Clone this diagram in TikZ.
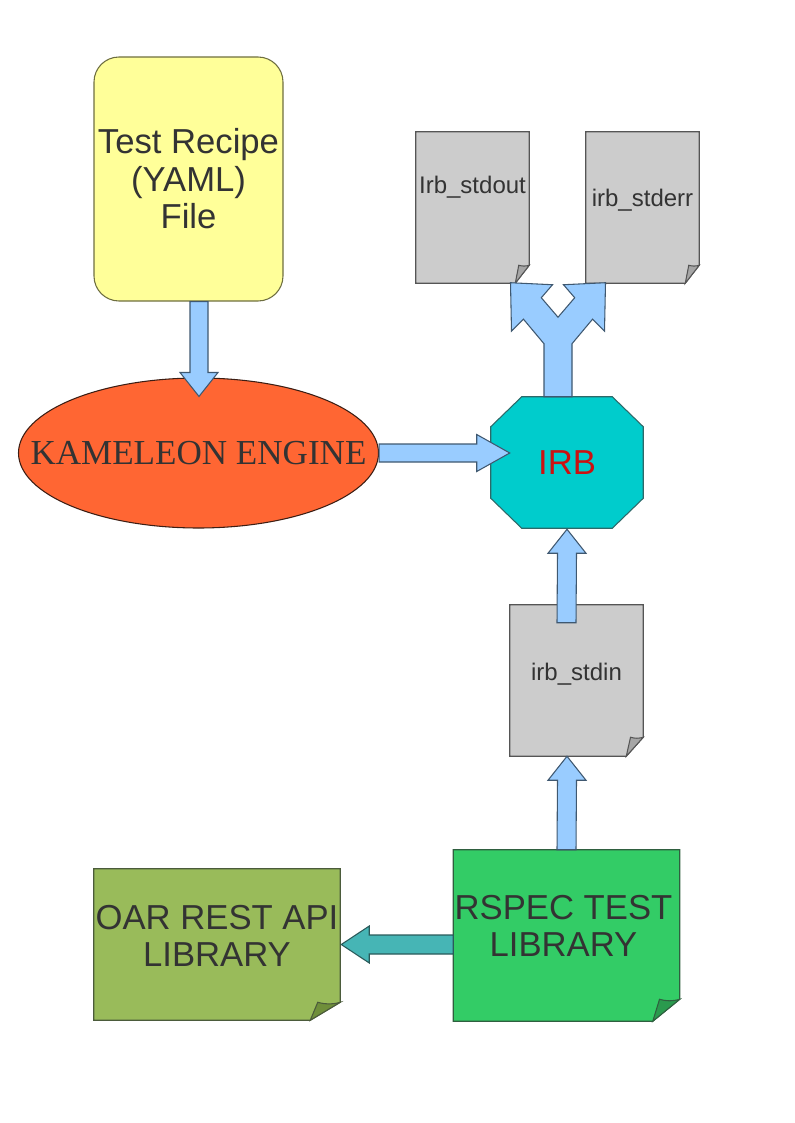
\documentclass[tikz,border=0pt]{standalone}
\usepackage{fontspec}
\setmainfont{Liberation Sans}
\newfontfamily\kserif{Liberation Serif}
\usetikzlibrary{calc,shapes.geometric}
\definecolor{txtgray}{HTML}{333333}
\definecolor{recipefill}{HTML}{FFFF99}
\definecolor{recipeedge}{HTML}{6E6E40}
\definecolor{kamfill}{HTML}{FF6633}
\definecolor{kamedge}{HTML}{3C1E14}
\definecolor{irbfill}{HTML}{00CCCC}
\definecolor{irbedge}{HTML}{2D6969}
\definecolor{irbred}{HTML}{CC1111}
\definecolor{arrowblue}{HTML}{99CCFF}
\definecolor{arrowedge}{HTML}{3F5870}
\definecolor{tealfill}{HTML}{46B5B5}
\definecolor{tealedge}{HTML}{2A5A5A}
\definecolor{docfill}{HTML}{CCCCCC}
\definecolor{docfold}{HTML}{A6A6A6}
\definecolor{docedge}{HTML}{555555}
\definecolor{oarfill}{HTML}{99BB5A}
\definecolor{oarfold}{HTML}{6F8F3A}
\definecolor{oaredge}{HTML}{4B5B3B}
\definecolor{rspecfill}{HTML}{33CC66}
\definecolor{rspecfold}{HTML}{2A9A4E}
\definecolor{rspecedge}{HTML}{2F5F3F}
\newcommand\docshape[6]{%
  \filldraw[fill=#4,draw=#6,thinline] (#1.north west) -- (#1.north east)
    -- ($(#1.south east)+(0,-#3)$) -- ($(#1.south east)+(-#2,0)$)
    -- (#1.south west) -- cycle;
  \filldraw[fill=#5,draw=#6,thinline] ($(#1.south east)+(-#2,0)$)
    -- ($(#1.south east)+(-0.75*#2,-#3)$) to[bend right=15] ($(#1.south east)+(0,-#3)$) -- cycle;
}
\begin{document}
\begin{tikzpicture}[x=0.75pt,y=-0.75pt,
  thinline/.style={line width=0.8pt,line join=miter},
  frame/.style={rectangle,inner sep=0pt,draw=none},
  bigtxt/.style={font=\fontsize{26}{28.1}\selectfont,text=txtgray,align=center,inner sep=0pt},
  smalltxt/.style={font=\fontsize{18}{21}\selectfont,text=txtgray,inner sep=0pt},
  bluearrow/.style={thinline,fill=arrowblue,draw=arrowedge},
  tealarrow/.style={thinline,fill=tealfill,draw=tealedge}]
\useasboundingbox (0,0) rectangle (794,1123);

% Test recipe
\node[rectangle,rounded corners=18.75pt,minimum width=141.75pt,minimum height=183pt,
  fill=recipefill,draw=recipeedge,thinline,bigtxt] (recipe) at (188.5,179)
  {Test Recipe\\(YAML)\\File};

% Kameleon engine
\node[ellipse,inner sep=0pt,minimum width=270pt,minimum height=112.5pt,
  fill=kamfill,draw=kamedge,thinline] (kam) at (198.5,453) {};
\node[bigtxt,font=\kserif\fontsize{26.3}{28.1}\selectfont] (kamtxt) at ($(kam.center)+(0,0.5)$) {KAMELEON ENGINE};

% arrow recipe -> kameleon
\coordinate (a1s) at ($(recipe.south)+(10.5,0)$);
\coordinate (a1t) at ($(kam.north)+(0.5,19)$);
\draw[bluearrow] ($(a1s)+(-9,0)$) -- ($(a1s)+(9,0)$) -- ($(a1t)+(9,-24)$) -- ($(a1t)+(19,-24)$)
  -- (a1t) -- ($(a1t)+(-19,-24)$) -- ($(a1t)+(-9,-24)$) -- cycle;

% IRB
\node[frame,minimum width=114pt,minimum height=98.25pt] (irb) at (567,462.5) {};
\filldraw[fill=irbfill,draw=irbedge,thinline]
  ($(irb.north west)+(31,0)$) -- ($(irb.north east)+(-31,0)$) -- ($(irb.north east)+(0,30)$)
  -- ($(irb.south east)+(0,-30)$) -- ($(irb.south east)+(-31,0)$) -- ($(irb.south west)+(31,0)$)
  -- ($(irb.south west)+(0,-30)$) -- ($(irb.north west)+(0,30)$) -- cycle;
\node[bigtxt,text=irbred] (irbtxt) at ($(irb.center)+(0,0.5)$) {IRB};

% arrow kameleon -> IRB
\coordinate (a2s) at (kam.east);
\coordinate (a2t) at ($(irb.west)+(19,-9.5)$);
\draw[bluearrow] ($(a2s)+(0,-9)$) -- ($(a2t)+(-33,-9)$) -- ($(a2t)+(-33,-18.5)$) -- (a2t)
  -- ($(a2t)+(-33,18.5)$) -- ($(a2t)+(-33,9)$) -- ($(a2s)+(0,9)$) -- cycle;

% output documents
\node[frame,minimum width=84.75pt,minimum height=113.25pt] (stdout) at (472.5,207.5) {};
\docshape{stdout}{14}{18}{docfill}{docfold}{docedge}
\node[smalltxt,anchor=base] (stdouttxt) at ($(stdout.north)+(0,62)$) {Irb\_stdout};
\node[frame,minimum width=84.75pt,minimum height=113.25pt] (stderr) at (642.5,207.5) {};
\docshape{stderr}{14}{18}{docfill}{docfold}{docedge}
\node[smalltxt,anchor=base] (stderrtxt) at ($(stderr.north)+(0,75)$) {irb\_stderr};

% split arrow IRB -> stdout / stderr
\begin{scope}[shift={($(irb.north)+(-9,0)$)}]
\draw[bluearrow] (-14,0) -- (-14,-53) -- (-34.5,-77.5) -- (-46.5,-65.5) -- (-47.5,-114)
  -- (-5.5,-112) -- (-16.7,-99) -- (0,-79.5) -- (16.7,-99) -- (5.5,-112) -- (47.5,-114)
  -- (46.5,-65.5) -- (34.5,-77.5) -- (14,-53) -- (14,0) -- cycle;
\end{scope}

% stdin document
\node[frame,minimum width=99.75pt,minimum height=113.25pt] (stdin) at (576.5,680.5) {};
\docshape{stdin}{17}{19}{docfill}{docfold}{docedge}
\node[smalltxt,anchor=base] (stdintxt) at ($(stdin.north)+(0,76)$) {irb\_stdin};

% arrow stdin -> IRB
\coordinate (a3s) at ($(stdin.north)+(-10,18)$);
\coordinate (a3t) at ($(irb.south)+(0,1)$);
\draw[bluearrow] ($(a3s)+(-9.5,0)$) -- ($(a3t)+(-9.5,24)$) -- ($(a3t)+(-19,24)$) -- (a3t)
  -- ($(a3t)+(19,24)$) -- ($(a3t)+(9.5,24)$) -- ($(a3s)+(9.5,0)$) -- cycle;

% RSPEC
\node[frame,minimum width=169.5pt,minimum height=128.25pt] (rspec) at (566.5,935.5) {};
\docshape{rspec}{27}{22}{rspecfill}{rspecfold}{rspecedge}
\node[bigtxt] (rspectxt) at ($(rspec.center)+(-3,-9.5)$) {RSPEC TEST\\LIBRARY};

% arrow RSPEC -> stdin
\coordinate (a4s) at (rspec.north);
\coordinate (a4t) at ($(stdin.south)+(-9.5,0)$);
\draw[bluearrow] ($(a4s)+(-9.5,0)$) -- ($(a4t)+(-9.5,24)$) -- ($(a4t)+(-19,24)$) -- (a4t)
  -- ($(a4t)+(19,24)$) -- ($(a4t)+(9.5,24)$) -- ($(a4s)+(9.5,0)$) -- cycle;

% OAR
\node[frame,minimum width=184.5pt,minimum height=113.25pt] (oar) at (217,944.5) {};
\docshape{oar}{30}{18}{oarfill}{oarfold}{oaredge}
\node[bigtxt] (oartxt) at ($(oar.center)+(0,-8.5)$) {OAR REST API\\LIBRARY};

% arrow RSPEC -> OAR
\coordinate (a5s) at ($(rspec.west)+(0,9)$);
\coordinate (a5t) at ($(oar.east)+(1,0)$);
\draw[tealarrow] ($(a5s)+(0,-9.5)$) -- ($(a5t)+(28,-9.5)$) -- ($(a5t)+(28,-18.5)$) -- (a5t)
  -- ($(a5t)+(28,18.5)$) -- ($(a5t)+(28,9.5)$) -- ($(a5s)+(0,9.5)$) -- cycle;
\end{tikzpicture}
\end{document}
